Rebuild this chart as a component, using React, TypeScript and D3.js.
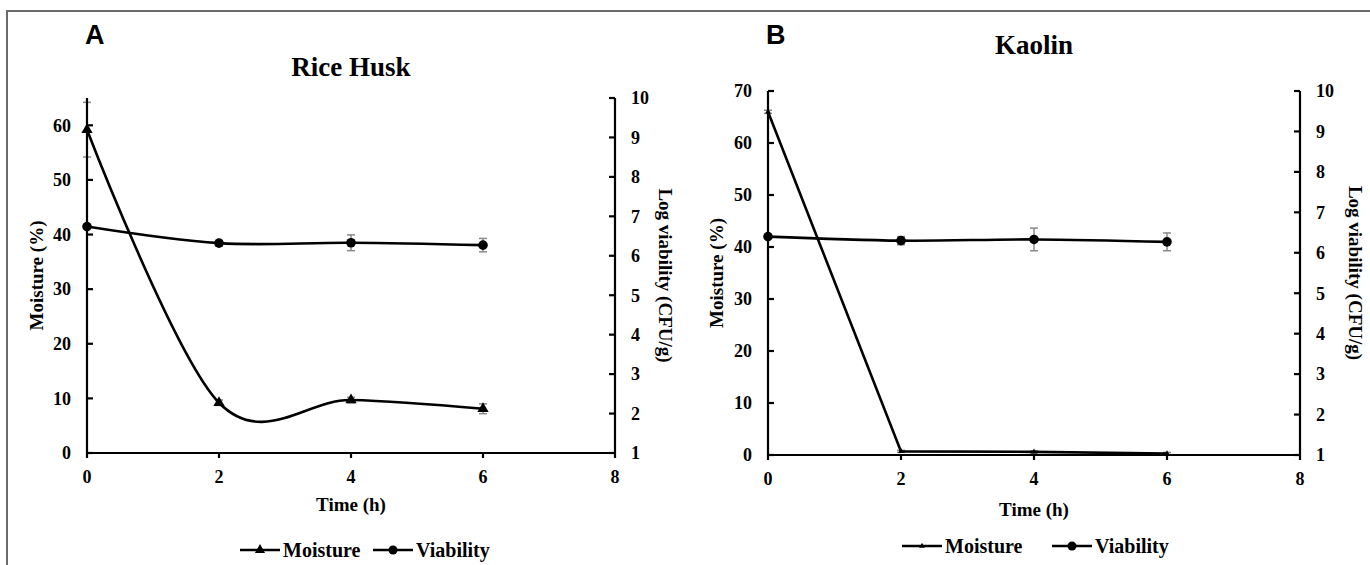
import * as d3 from 'd3'

const times = [0, 2, 4, 6]
const xTicks = [0, 2, 4, 6, 8]
const rightTicks = [1, 2, 3, 4, 5, 6, 7, 8, 9, 10]

const riceMoisture = [59.2, 9.2, 9.7, 8.1]
const riceMoistureErr = [5, 0.5, 0.5, 0.9]
const riceViability = [6.74, 6.32, 6.33, 6.27]
const riceViabilityErr = [0.04, 0.07, 0.2, 0.17]
const riceLeftTicks = [0, 10, 20, 30, 40, 50, 60]

const kaolinMoisture = [66, 0.7, 0.6, 0.3]
const kaolinMoistureErr = [0.3, 0.2, 0.2, 0.2]
const kaolinViability = [6.4, 6.3, 6.33, 6.27]
const kaolinViabilityErr = [0.04, 0.1, 0.28, 0.22]
const kaolinLeftTicks = [0, 10, 20, 30, 40, 50, 60, 70]

const SERIF = '"Liberation Serif", "Times New Roman", serif'
const SANS = '"Liberation Sans", Arial, sans-serif'
const ERR = '#8a8a8a'

type PanelProps = {
  letter: string
  title: string
  titleY: number
  moisture: number[]
  moistureErr: number[]
  viability: number[]
  viabilityErr: number[]
  leftTicks: number[]
  leftMax: number
  smoothMoisture: boolean
  bigMarkers: boolean
  left: number
  right: number
  top: number
  bottom: number
  timeY: number
  leftLabelX: number
  rightLabelX: number
  legend: { x: number; gap: number; y: number }
}

function Panel(p: PanelProps) {
  const x = d3.scaleLinear().domain([0, 8]).range([p.left, p.right])
  const yL = d3.scaleLinear().domain([0, p.leftMax]).range([p.bottom, p.top])
  const yR = d3.scaleLinear().domain([1, 10]).range([p.bottom, p.top])

  const mCurve = p.smoothMoisture ? d3.curveCatmullRom.alpha(0) : d3.curveLinear
  const mLine = d3.line<number>().x((_, i) => x(times[i])).y(d => yL(d)).curve(mCurve)
  const vLine = d3.line<number>().x((_, i) => x(times[i])).y(d => yR(d)).curve(d3.curveCatmullRom.alpha(0))

  const tri = d3.symbol(d3.symbolTriangle).size(p.bigMarkers ? 55 : 14)()
  const triLegend = d3.symbol(d3.symbolTriangle).size(p.bigMarkers ? 45 : 14)()
  const midY = (p.top + p.bottom) / 2
  const cx = (p.left + p.right) / 2

  const errBar = (xv: number, lo: number, hi: number, key: string) => (
    <g key={key} stroke={ERR} strokeWidth={1.5}>
      <line x1={xv} x2={xv} y1={lo} y2={hi} />
      <line x1={xv - 4} x2={xv + 4} y1={lo} y2={lo} />
      <line x1={xv - 4} x2={xv + 4} y1={hi} y2={hi} />
    </g>
  )

  return (
    <g>
      <text x={p.left - 2} y={44} fontFamily={SANS} fontWeight="bold" fontSize={27}>{p.letter}</text>
      <text x={cx} y={p.titleY} textAnchor="middle" fontFamily={SERIF} fontWeight="bold" fontSize={27}>{p.title}</text>

      {/* error bars */}
      {p.moisture.map((d, i) => errBar(x(times[i]), yL(d - p.moistureErr[i]), yL(d + p.moistureErr[i]), 'me' + i))}
      {p.viability.map((d, i) => errBar(x(times[i]), yR(d - p.viabilityErr[i]), yR(d + p.viabilityErr[i]), 've' + i))}

      {/* axes */}
      <g stroke="#000" strokeWidth={2.2} fill="none">
        <line x1={p.left} x2={p.left} y1={p.top} y2={p.bottom} />
        <line x1={p.right} x2={p.right} y1={p.top} y2={p.bottom} />
        <line x1={p.left} x2={p.right} y1={p.bottom} y2={p.bottom} />
        {p.leftTicks.map(t => <line key={'lt' + t} x1={p.left} x2={p.left + 6} y1={yL(t)} y2={yL(t)} />)}
        {rightTicks.map(t => <line key={'rt' + t} x1={p.right - 6} x2={p.right} y1={yR(t)} y2={yR(t)} />)}
        {xTicks.map(t => <line key={'xt' + t} x1={x(t)} x2={x(t)} y1={p.bottom} y2={p.bottom + 5} />)}
      </g>

      <g fontFamily={SERIF} fontWeight="bold" fontSize={18}>
        {p.leftTicks.map(t => (
          <text key={'ll' + t} x={p.left - 16} y={yL(t)} dy="0.35em" textAnchor="end">{t}</text>
        ))}
        {rightTicks.map(t => (
          <text key={'rl' + t} x={p.right + 16} y={yR(t)} dy="0.35em" textAnchor="start">{t}</text>
        ))}
        {xTicks.map(t => (
          <text key={'xl' + t} x={x(t)} y={p.bottom + 30} textAnchor="middle">{t}</text>
        ))}
      </g>
      <g fontFamily={SERIF} fontWeight="bold" fontSize={19}>
        <text x={cx} y={p.timeY} textAnchor="middle">Time (h)</text>
        <text transform={`translate(${p.leftLabelX},${midY}) rotate(-90)`} dy="0.35em" textAnchor="middle">Moisture (%)</text>
        <text transform={`translate(${p.rightLabelX},${midY}) rotate(90)`} dy="0.35em" textAnchor="middle">Log viability (CFU/g)</text>
      </g>

      {/* series */}
      <path d={mLine(p.moisture) ?? ''} fill="none" stroke="#000" strokeWidth={2.6} />
      <path d={vLine(p.viability) ?? ''} fill="none" stroke="#000" strokeWidth={2.6} />
      {p.moisture.map((d, i) => (
        <path key={'mm' + i} d={tri ?? ''} transform={`translate(${x(times[i])},${yL(d)})`} fill="#000" />
      ))}
      {p.viability.map((d, i) => (
        <circle key={'vm' + i} cx={x(times[i])} cy={yR(d)} r={4.8} fill="#000" />
      ))}

      {/* legend */}
      <g fontFamily={SERIF} fontWeight="bold" fontSize={20}>
        <line x1={p.legend.x} x2={p.legend.x + 40} y1={p.legend.y} y2={p.legend.y} stroke="#000" strokeWidth={2.6} />
        <path d={triLegend ?? ''} transform={`translate(${p.legend.x + 20},${p.legend.y})`} />
        <text x={p.legend.x + 43} y={p.legend.y} dy="0.35em">Moisture</text>
        <line x1={p.legend.x + p.legend.gap} x2={p.legend.x + p.legend.gap + 40} y1={p.legend.y} y2={p.legend.y} stroke="#000" strokeWidth={2.6} />
        <circle cx={p.legend.x + p.legend.gap + 20} cy={p.legend.y} r={4.5} />
        <text x={p.legend.x + p.legend.gap + 43} y={p.legend.y} dy="0.35em">Viability</text>
      </g>
    </g>
  )
}

export default function App() {
  return (
    <svg width={1370} height={565} style={{ position: 'absolute', left: 0, top: 0, background: '#fff' }}>
      <rect width={1370} height={565} fill="#fff" />
      <path d="M7,565 L7,11 L1370,11" fill="none" stroke="#6b6b6b" strokeWidth={2} />
      <Panel
        letter="A" title="Rice Husk" titleY={76}
        moisture={riceMoisture} moistureErr={riceMoistureErr}
        viability={riceViability} viabilityErr={riceViabilityErr}
        leftTicks={riceLeftTicks} leftMax={65}
        smoothMoisture={true} bigMarkers={true}
        left={87} right={615} top={98} bottom={453}
        timeY={511} leftLabelX={36} rightLabelX={666}
        legend={{ x: 240, gap: 133, y: 550 }}
      />
      <Panel
        letter="B" title="Kaolin" titleY={54}
        moisture={kaolinMoisture} moistureErr={kaolinMoistureErr}
        viability={kaolinViability} viabilityErr={kaolinViabilityErr}
        leftTicks={kaolinLeftTicks} leftMax={70}
        smoothMoisture={false} bigMarkers={false}
        left={768} right={1300} top={91} bottom={455}
        timeY={516} leftLabelX={716} rightLabelX={1356}
        legend={{ x: 902, gap: 150, y: 546 }}
      />
    </svg>
  )
}
